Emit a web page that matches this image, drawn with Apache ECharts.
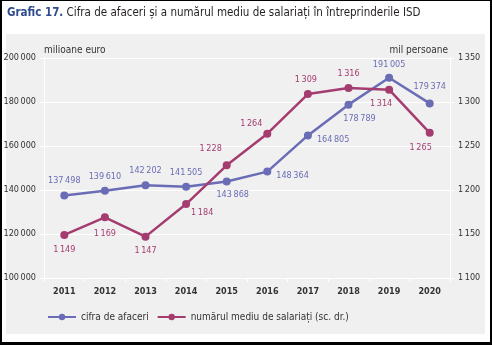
<!DOCTYPE html>
<html><head><meta charset="utf-8">
<script src="https://cdn.jsdelivr.net/npm/echarts@6/dist/echarts.min.js"></script>
<style>html,body{margin:0;padding:0;background:#fff}#c{width:492px;height:345px}</style>
</head><body><div id="c"></div>
<script>
const years = ['2011','2012','2013','2014','2015','2016','2017','2018','2019','2020'];
const cifraAfaceri = [137498,139610,142202,141505,143868,148364,164805,178789,191005,179374];
const salariati = [1149,1169,1147,1184,1228,1264,1309,1316,1314,1265];
const leftTicks = [100000,120000,140000,160000,180000,200000];
const rightTicks = [1100,1150,1200,1250,1300,1350];

const FONT = '"DejaVu Sans Condensed", Roboto, sans-serif';
const BLUE = '#6a6db5';
const PINK = '#a43c70';
function fmt(v){ return String(v).replace(/\B(?=(\d{3})+(?!\d))/g,'\u2009'); }

// label placements (style only)
const blueLab = [
  {position:'top',distance:6},{position:'top',distance:6},{position:'top',distance:6},{position:'top',distance:6},
  {position:'bottom',distance:5,offset:[6,0]},{position:'right',distance:5,offset:[0,4]},
  {position:'right',distance:5,offset:[0,4]},{position:'bottom',distance:5,offset:[11,0]},
  {position:'top',distance:5},{position:'top',distance:8}
];
const pinkLab = [
  {position:'bottom',distance:6},{position:'bottom',distance:8},{position:'bottom',distance:6},
  {position:'right',distance:3,offset:[-2,9]},{position:'top',distance:8,offset:[-16,0]},
  {position:'top',distance:2,offset:[-16,0]},{position:'top',distance:6,offset:[-2,0]},
  {position:'top',distance:6},{position:'bottom',distance:5,offset:[-8,0]},{position:'bottom',distance:6,offset:[-9,0]}
];

const chart = echarts.init(document.getElementById('c'), null, {renderer:'canvas'});
const gridL=44, gridR=42, gridT=58, gridB=67;
chart.setOption({
  backgroundColor:'#ffffff',
  animation:false,
  textStyle:{fontFamily:FONT},
  graphic:[
    {type:'rect',z:-9,shape:{x:6,y:34,width:479,height:300},style:{fill:'#f0f0f0'}},
    {type:'rect',z:-8,shape:{x:0,y:0,width:492,height:1},style:{fill:'#000'}},
    {type:'rect',z:-8,shape:{x:0,y:0,width:2,height:345},style:{fill:'#000'}},
    {type:'rect',z:-8,shape:{x:490,y:0,width:2,height:345},style:{fill:'#000'}},
    {type:'rect',z:-8,shape:{x:0,y:342,width:492,height:3},style:{fill:'#000'}},
    {type:'text',left:7,top:7,style:{text:'{b|Grafic 17.} Cifra de afaceri și a numărul mediu de salariați în întreprinderile ISD',
      rich:{b:{fontFamily:FONT,fontSize:11.5,fontWeight:'bold',fill:'#2e4b8c'}},
      fontFamily:FONT,fontSize:11.5,fill:'#231f20'}},
    {type:'text',left:44,top:45,style:{text:'milioane euro',fontFamily:FONT,fontSize:10,fill:'#333'}},
    {type:'text',right:44,top:45,style:{text:'mil persoane',fontFamily:FONT,fontSize:10,fill:'#333',align:'right'}}
  ],
  grid:{left:gridL,right:gridR,top:gridT,bottom:gridB,containLabel:false},
  legend:{
    left:42, top:307, itemWidth:28, itemHeight:8, itemGap:8,
    textStyle:{fontFamily:FONT,fontSize:10,color:'#333'},
    data:['cifra de afaceri','numărul mediu de salariați (sc. dr.)']
  },
  xAxis:{
    type:'category', data:years, boundaryGap:true,
    axisLine:{lineStyle:{color:'#ffffff',width:1}},
    axisTick:{show:true,length:4,lineStyle:{color:'#ffffff'}},
    axisLabel:{fontFamily:FONT,fontSize:9,fontWeight:'bold',color:'#333',margin:9}
  },
  yAxis:[
    {type:'value',min:100000,max:200000,interval:20000,position:'left',
     axisLine:{show:true,lineStyle:{color:'#ffffff'}},axisTick:{show:true,length:4,lineStyle:{color:'#ffffff'}},
     splitLine:{show:true,lineStyle:{color:'#ffffff',width:1}},
     axisLabel:{fontFamily:FONT,fontSize:9,color:'#333',margin:8,formatter:v=>leftTicks.includes(v)?fmt(v):''}},
    {type:'value',min:1100,max:1350,interval:50,position:'right',
     axisLine:{show:true,lineStyle:{color:'#ffffff'}},axisTick:{show:true,length:4,lineStyle:{color:'#ffffff'}},
     splitLine:{show:false},
     axisLabel:{fontFamily:FONT,fontSize:9,color:'#333',margin:8,formatter:v=>rightTicks.includes(v)?fmt(v):''}}
  ],
  series:[
    {name:'cifra de afaceri',type:'line',yAxisIndex:0,
     data:cifraAfaceri.map((v,i)=>({value:v,label:blueLab[i]})),
     symbol:'circle',symbolSize:8,
     lineStyle:{color:BLUE,width:2.5},itemStyle:{color:BLUE},
     label:{show:true,fontFamily:FONT,fontSize:9,color:BLUE,formatter:p=>fmt(p.value)},z:3},
    {name:'numărul mediu de salariați (sc. dr.)',type:'line',yAxisIndex:1,
     data:salariati.map((v,i)=>({value:v,label:pinkLab[i]})),
     symbol:'circle',symbolSize:8,
     lineStyle:{color:PINK,width:2.5},itemStyle:{color:PINK},
     label:{show:true,fontFamily:FONT,fontSize:9,color:PINK,formatter:p=>fmt(p.value)},z:4}
  ]
});
</script></body></html>
